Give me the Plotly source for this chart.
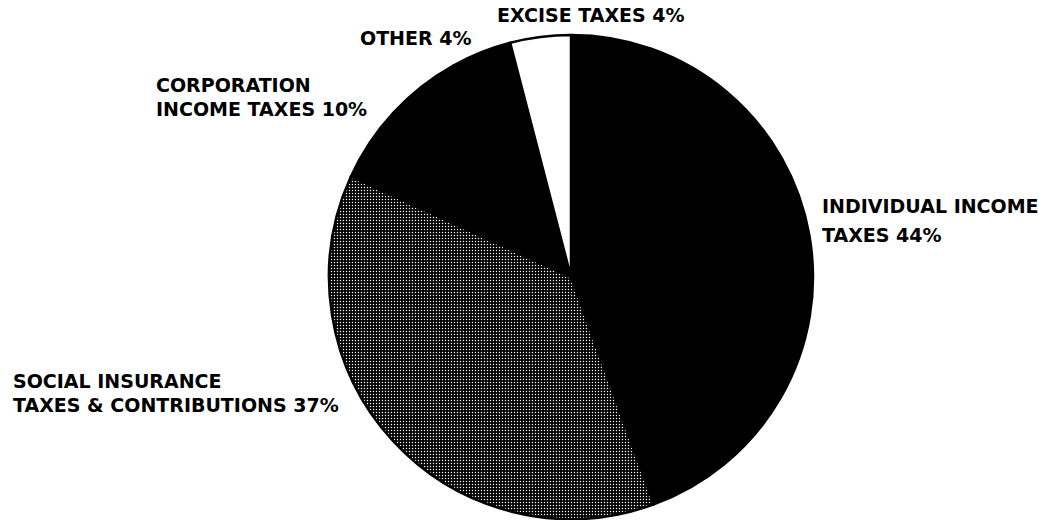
import plotly.graph_objects as go

# Federal receipts by source, clockwise from 12 o'clock
sources = ["INDIVIDUAL INCOME TAXES", "SOCIAL INSURANCE TAXES & CONTRIBUTIONS",
           "CORPORATION INCOME TAXES", "OTHER", "EXCISE TAXES"]
shares = [44, 37, 10, 4, 4]
fills = ["black", "black", "black", "black", "white"]
patterns = ["", ".", "", "", ""]

# Label text as broken onto lines next to the pie
label_lines = [
    ["INDIVIDUAL INCOME", "TAXES"],
    ["SOCIAL INSURANCE", "TAXES & CONTRIBUTIONS"],
    ["CORPORATION", "INCOME TAXES"],
    ["OTHER"],
    ["EXCISE TAXES"],
]
# Left edge and cap-top of each label line (pixels from the top-left)
label_x = [822, 13, 156, 360, 497]
label_line_y = [[198, 227], [373, 397], [78, 101], [30], [7]]

W, H = 1039, 520
cx, cy, r = 571, 277, 242

fig = go.Figure(go.Pie(
    labels=sources,
    values=shares,
    sort=False,
    direction="clockwise",
    rotation=0,
    textinfo="none",
    hoverinfo="label+value",
    showlegend=False,
    marker=dict(
        colors=fills,
        line=dict(color="black", width=2.5),
        pattern=dict(shape=patterns, fgcolor="white", bgcolor=fills,
                     fillmode="replace", size=3, solidity=0.18),
    ),
    domain=dict(x=[(cx - r) / W, (cx + r) / W],
                y=[(H - cy - r) / H, (H - cy + r) / H]),
))

for lines, val, px, ys in zip(label_lines, shares, label_x, label_line_y):
    texts = lines[:-1] + [f"{lines[-1]} {val}%"]
    for t, py in zip(texts, ys):
        fig.add_annotation(
            x=(px - 2) / W, y=1 - (py - 5.5) / H, xref="paper", yref="paper",
            xanchor="left", yanchor="top", align="left", showarrow=False,
            text=f"<b>{t}</b>",
            font=dict(family="DejaVu Sans", size=19, color="black"),
        )

fig.update_layout(
    width=W, height=H,
    margin=dict(l=0, r=0, t=0, b=0),
    paper_bgcolor="white",
    plot_bgcolor="white",
)

fig.write_html("out.html")
